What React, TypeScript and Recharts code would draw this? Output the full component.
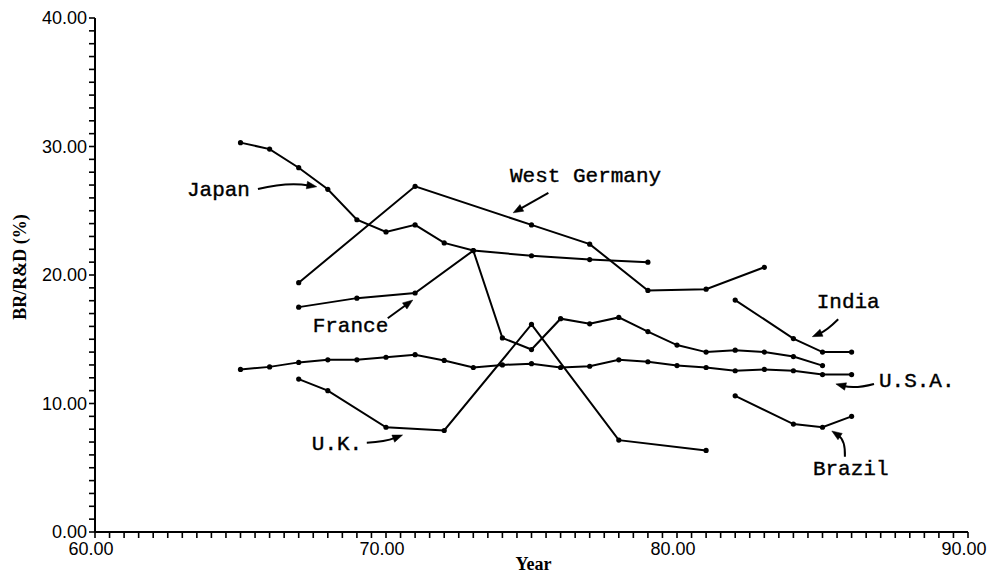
import React from "react";
import { LineChart, Line, XAxis, YAxis, ReferenceLine, ReferenceDot } from "recharts";

// years and BR/R&D ratios (%)
const japanYears = [65, 66, 67, 68, 69, 70, 71, 72, 73, 75, 77, 79];
const japanValues = [30.3, 29.8, 28.35, 26.67, 24.3, 23.35, 23.9, 22.5, 21.9, 21.5, 21.2, 21.0];

const westGermanyYears = [67, 71, 75, 77, 79, 81, 83];
const westGermanyValues = [19.4, 26.9, 23.9, 22.4, 18.8, 18.9, 20.6];

const franceYears = [67, 69, 71, 73, 74, 75, 76, 77, 78, 79, 80, 81, 82, 83, 84, 85];
const franceValues = [17.5, 18.2, 18.6, 21.9, 15.1, 14.2, 16.6, 16.2, 16.7, 15.6, 14.55, 14.0, 14.15, 14.0, 13.65, 12.95];

const usaYears = [65, 66, 67, 68, 69, 70, 71, 72, 73, 74, 75, 76, 77, 78, 79, 80, 81, 82, 83, 84, 85, 86];
const usaValues = [12.65, 12.85, 13.2, 13.4, 13.4, 13.6, 13.8, 13.35, 12.8, 13.0, 13.1, 12.8, 12.9, 13.4, 13.25, 12.95, 12.8, 12.55, 12.65, 12.55, 12.25, 12.25];

const ukYears = [67, 68, 70, 72, 75, 78, 81];
const ukValues = [11.9, 11.0, 8.15, 7.9, 16.15, 7.15, 6.35];

const indiaYears = [82, 84, 85, 86];
const indiaValues = [18.05, 15.05, 14.0, 14.0];

const brazilYears = [82, 84, 85, 86];
const brazilValues = [10.6, 8.4, 8.15, 9.0];

const xMajorTicks = [60, 70, 80, 90];
const yMajorTicks = [0, 10, 20, 30, 40];

// minor ticks: every half year on x, every 1% on y
const xTicks: number[] = [];
for (let i = 0; i <= 60; i++) xTicks.push(60 + i * 0.5);
const yTicks: number[] = [];
for (let i = 0; i <= 40; i++) yTicks.push(i);

const toPoints = (years: number[], values: number[]) =>
  years.map((x, i) => ({ x, y: values[i] }));

const series = [
  { name: "Japan", data: toPoints(japanYears, japanValues) },
  { name: "West Germany", data: toPoints(westGermanyYears, westGermanyValues) },
  { name: "France", data: toPoints(franceYears, franceValues) },
  { name: "U.S.A.", data: toPoints(usaYears, usaValues) },
  { name: "U.K.", data: toPoints(ukYears, ukValues) },
  { name: "India", data: toPoints(indiaYears, indiaValues) },
  { name: "Brazil", data: toPoints(brazilYears, brazilValues) },
];

// label text anchor + arrow (in data units), bend in px
const annotations = [
  { text: "Japan", tx: 63.16, ty: 26.15, from: [65.6, 26.69], to: [67.62, 26.87], bend: -6 },
  { text: "West Germany", tx: 74.26, ty: 27.24, from: [75.58, 26.4], to: [74.37, 24.84], bend: 0 },
  { text: "France", tx: 67.48, ty: 15.56, from: [70.06, 16.63], to: [70.92, 18.05], bend: 0 },
  { text: "India", tx: 84.8, ty: 17.41, from: [85.54, 16.55], to: [84.65, 15.2], bend: -3 },
  { text: "U.S.A.", tx: 86.94, ty: 11.31, from: [86.77, 11.52], to: [85.46, 11.52], bend: -5 },
  { text: "Brazil", tx: 84.67, ty: 4.44, from: [85.77, 5.86], to: [85.32, 7.86], bend: 8 },
  { text: "U.K.", tx: 67.45, ty: 6.38, from: [69.34, 6.95], to: [70.57, 7.55], bend: 3 },
];

const TICK_FONT = "'Liberation Sans', Arial, sans-serif";
const TITLE_FONT = "'Liberation Serif', 'Times New Roman', serif";
const NOTE_FONT = "'Liberation Mono', 'Courier New', monospace";

// ticks drawn here (tickSize 0) so every minor mark shows
function XTick({ x, y, payload }: any) {
  const major = xMajorTicks.includes(payload.value);
  return (
    <g>
      <line x1={x} y1={y} x2={x} y2={y + 6} stroke="#000" strokeWidth={1.6} />
      {major && (
        <text x={x - 4} y={y + 23} textAnchor="middle" fontFamily={TICK_FONT} fontSize={18} fill="#000">
          {payload.value.toFixed(2)}
        </text>
      )}
    </g>
  );
}

function YTick({ x, y, payload }: any) {
  const major = yMajorTicks.includes(payload.value);
  return (
    <g>
      <line x1={x - 6} y1={y} x2={x} y2={y} stroke="#000" strokeWidth={1.6} />
      {major && (
        <text x={x - 8} y={y + 6} textAnchor="end" fontFamily={TICK_FONT} fontSize={18} fill="#000">
          {payload.value.toFixed(2)}
        </text>
      )}
    </g>
  );
}

function YTitle(props: any) {
  const vb = props.viewBox || { y: 18, height: 514 };
  const cx = 26;
  const cy = vb.y + vb.height / 2 - 8;
  return (
    <text
      x={cx}
      y={cy}
      transform={`rotate(-90 ${cx} ${cy})`}
      textAnchor="middle"
      fontFamily={TITLE_FONT}
      fontWeight="bold"
      fontSize={18}
      fill="#000"
    >
      BR/R&amp;D (%)
    </text>
  );
}

function XTitle(props: any) {
  const vb = props.viewBox || { x: 95, width: 873, y: 532 };
  return (
    <text
      x={vb.x + vb.width / 2 + 2}
      y={570}
      textAnchor="middle"
      fontFamily={TITLE_FONT}
      fontWeight="bold"
      fontSize={18}
      fill="#000"
    >
      Year
    </text>
  );
}

function makeArrow(bend: number) {
  return (p: any) => {
    const { x1, y1, x2, y2 } = p;
    const dx = x2 - x1;
    const dy = y2 - y1;
    const len = Math.hypot(dx, dy) || 1;
    const nx = -dy / len;
    const ny = dx / len;
    const cx = (x1 + x2) / 2 + nx * bend;
    const cy = (y1 + y2) / 2 + ny * bend;
    // arrowhead along control -> end direction
    const hx = x2 - cx;
    const hy = y2 - cy;
    const hl = Math.hypot(hx, hy) || 1;
    const ux = hx / hl;
    const uy = hy / hl;
    const L = 10;
    const W = 3.8;
    const bx = x2 - ux * L;
    const by = y2 - uy * L;
    const head = `M${x2},${y2} L${bx - uy * W},${by + ux * W} L${bx + uy * W},${by - ux * W} Z`;
    const sx = x2 - ux * (L - 2);
    const sy = y2 - uy * (L - 2);
    return (
      <g>
        <path d={`M${x1},${y1} Q${cx},${cy} ${sx},${sy}`} fill="none" stroke="#000" strokeWidth={2} />
        <path d={head} fill="#000" stroke="#000" strokeWidth={0.5} />
      </g>
    );
  };
}

function makeNote(text: string) {
  return (p: any) => (
    <text
      x={p.cx}
      y={p.cy}
      fontFamily={NOTE_FONT}
      fontSize={21}
      fill="#000"
      stroke="#000"
      strokeWidth={0.4}
    >
      {text}
    </text>
  );
}

export default function App() {
  return (
    <div style={{ position: "absolute", left: 0, top: 0, background: "#fff" }}>
      <LineChart width={987} height={574} margin={{ top: 18, right: 19, left: 0, bottom: 0 }}>
        <XAxis
          dataKey="x"
          type="number"
          domain={[60, 90]}
          ticks={xTicks}
          interval={0}
          allowDataOverflow
          height={42}
          tickSize={0}
          tickMargin={0}
          tick={<XTick />}
          tickLine={false}
          axisLine={{ stroke: "#000", strokeWidth: 2 }}
          label={{ value: "Year", content: XTitle }}
        />
        <YAxis
          dataKey="y"
          type="number"
          domain={[0, 40]}
          ticks={yTicks}
          interval={0}
          allowDataOverflow
          width={95}
          tickSize={0}
          tickMargin={0}
          tick={<YTick />}
          tickLine={false}
          axisLine={{ stroke: "#000", strokeWidth: 2 }}
          label={{ value: "BR/R&D (%)", content: YTitle }}
        />
        {series.map((s) => (
          <Line
            key={s.name}
            name={s.name}
            data={s.data}
            dataKey="y"
            type="linear"
            stroke="#000"
            strokeWidth={2}
            dot={{ r: 2.6, fill: "#000", stroke: "#000", strokeWidth: 0 }}
            activeDot={false}
            isAnimationActive={false}
          />
        ))}
        {annotations.map((a) => (
          <ReferenceLine
            key={a.text + "-arrow"}
            segment={[
              { x: a.from[0], y: a.from[1] },
              { x: a.to[0], y: a.to[1] },
            ]}
            shape={makeArrow(a.bend)}
          />
        ))}
        {annotations.map((a) => (
          <ReferenceDot key={a.text} x={a.tx} y={a.ty} r={0} shape={makeNote(a.text)} />
        ))}
      </LineChart>
    </div>
  );
}
